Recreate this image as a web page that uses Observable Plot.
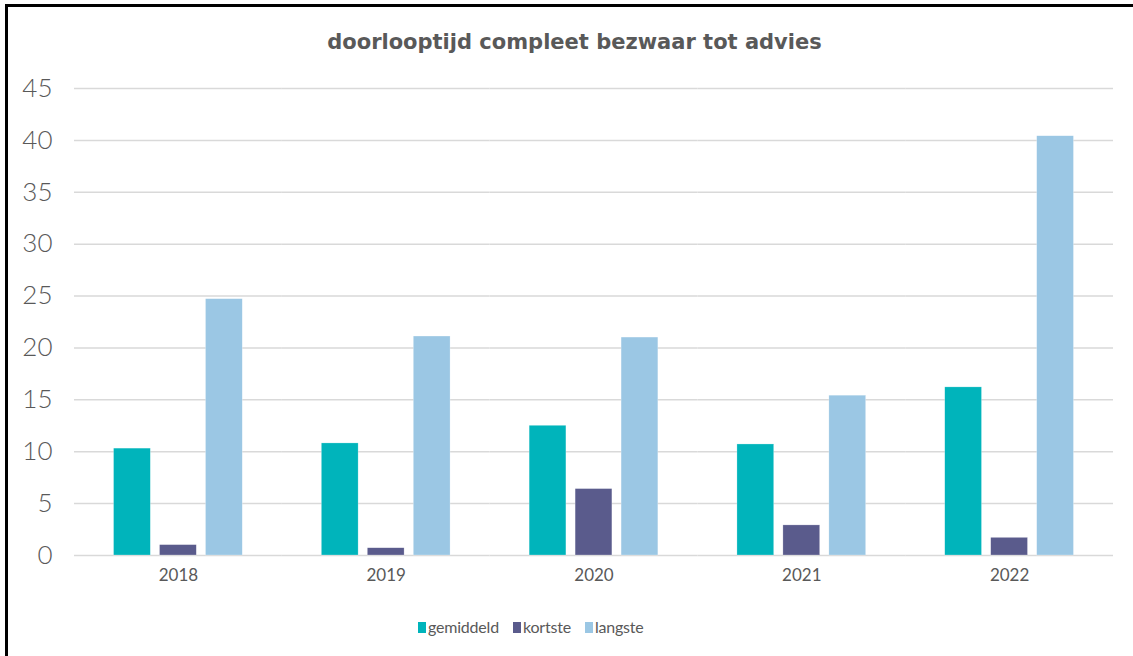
<!DOCTYPE html>
<html><head><meta charset="utf-8">
<script src="https://cdn.jsdelivr.net/npm/d3@7"></script>
<script src="https://cdn.jsdelivr.net/npm/@observablehq/plot@0.6"></script>
<style>
html,body{margin:0;padding:0;background:#fff;width:1133px;height:656px;overflow:hidden;position:relative;}
#frame{position:absolute;left:5px;top:4px;width:1128px;height:652px;border-top:3px solid #000;border-left:3px solid #000;box-sizing:border-box;}
#title{position:absolute;left:16px;top:29px;width:1117px;text-align:center;font-family:"DejaVu Sans";font-weight:bold;font-size:21px;color:#595959;line-height:26px;}
#chart{position:absolute;left:0;top:60px;}
#legend{position:absolute;left:418px;top:615px;display:flex;align-items:center;font-family:Lato;font-size:16px;letter-spacing:-0.2px;color:#595959;line-height:24px;}
#legend .item{display:flex;align-items:center;margin-right:14px;}
#legend .sw{width:8px;height:11px;margin-right:2px;}
</style></head>
<body>
<div id="frame"></div>
<div id="title">doorlooptijd compleet bezwaar tot advies</div>
<div id="chart"></div>
<div id="legend"></div>
<script>
const years = ["2018", "2019", "2020", "2021", "2022"];
const series = ["gemiddeld", "kortste", "langste"];
const gemiddeld = [10.3, 10.8, 12.5, 10.7, 16.2];
const kortste = [1.0, 0.7, 6.4, 2.9, 1.7];
const langste = [24.7, 21.1, 21.0, 15.4, 40.4];
const yTicks = [0, 5, 10, 15, 20, 25, 30, 35, 40, 45];
const colors = ["#00b4bb", "#5a5b8c", "#9bc7e4"];

const valuesBySeries = {gemiddeld, kortste, langste};
const data = years.flatMap((year, i) => series.map(s => ({year, serie: s, value: valuesBySeries[s][i]})));

const chart = Plot.plot({
  width: 1133,
  height: 540,
  marginLeft: 74,
  marginRight: 20,
  marginTop: 28,
  marginBottom: 45,
  style: {fontFamily: "Lato", color: "#595959", background: "transparent", overflow: "visible"},
  fx: {domain: years, padding: 0, round: false, label: null, axis: null},
  x: {domain: series, paddingInner: 0.2, paddingOuter: 0.86, round: false, axis: null},
  y: {domain: [0, 45], label: null},
  color: {domain: series, range: colors},
  marks: [
    Plot.gridY(yTicks, {stroke: "#d9d9d9", strokeOpacity: 1, strokeWidth: 1.5}),
    Plot.barY(data, {fx: "year", x: "serie", y: "value", fill: "serie", stroke: "#ffffff", strokeOpacity: 0.5, strokeWidth: 0.5}),
    Plot.axisY(yTicks, {tickSize: 0, tickPadding: 22, fontSize: 26, fontWeight: 300, label: null, fill: "#595959"}),
    Plot.axisFx({anchor: "bottom", tickSize: 0, tickPadding: 13, fontSize: 17, label: null, fill: "#595959"})
  ]
});
document.getElementById("chart").appendChild(chart);

const legend = document.getElementById("legend");
series.forEach((s, i) => {
  const item = document.createElement("div");
  item.className = "item";
  const sw = document.createElement("span");
  sw.className = "sw";
  sw.style.background = colors[i];
  const t = document.createElement("span");
  t.textContent = s;
  item.appendChild(sw);
  item.appendChild(t);
  legend.appendChild(item);
});
</script>
</body></html>
